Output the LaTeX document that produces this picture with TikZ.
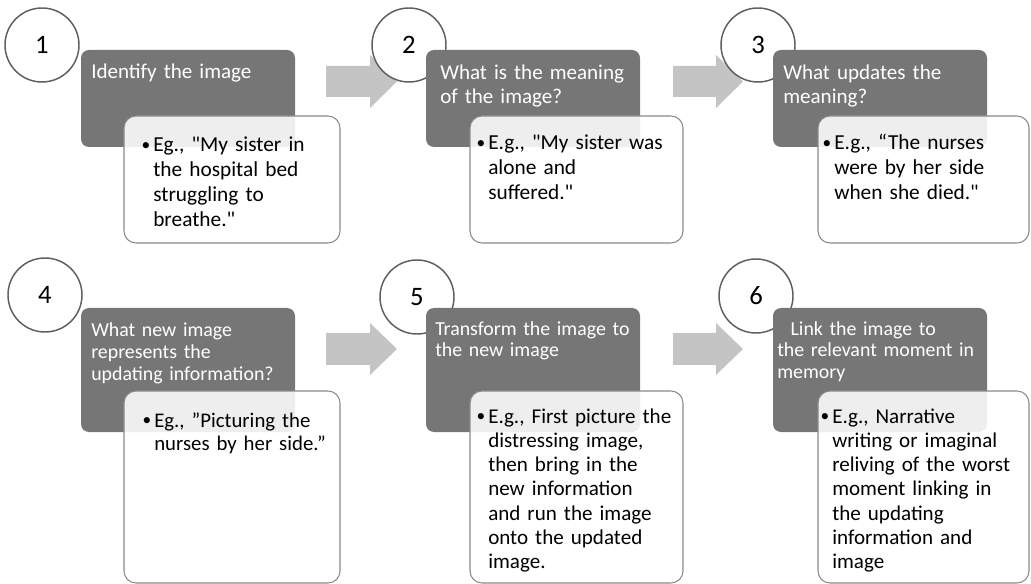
\documentclass[tikz,border=0pt]{standalone}
\usepackage{fontspec}
\setmainfont{Carlito}[Ligatures=TeXOff]
\definecolor{boxgray}{HTML}{767676}
\definecolor{arrowgray}{HTML}{C4C4C4}
\definecolor{circline}{HTML}{5E5E5E}
\definecolor{wline}{HTML}{8A8A8A}
\newcommand{\bul}{\makebox[8.25pt][l]{\hspace*{-0.5pt}\raisebox{0.9pt}{\fontsize{13}{13}\selectfont •}}}
\newcommand{\ind}{\hspace*{8.25pt}}
\begin{document}
\begin{tikzpicture}[x=0.75pt,y=-0.75pt,
  numcircle/.style={circle, draw=circline, line width=1.1pt, fill=white, minimum size=55.5pt, inner sep=0pt, font=\fontsize{20}{22}\selectfont},
  darkbox/.style={rectangle, rounded corners=6pt, fill=boxgray, inner sep=0pt, minimum width=160.5pt},
  whitebox/.style={rectangle, rounded corners=9pt, draw=wline, line width=0.8pt, fill=white, fill opacity=0.88, inner sep=0pt},
  titletext/.style={text=white, anchor=base west, inner sep=0pt, text width=250pt, align=left},
  bodytext/.style={text=black, anchor=base west, inner sep=0pt, text width=250pt, align=left},
  blockarrow/.style={fill=arrowgray}
]
\useasboundingbox (0,0) rectangle (1031,584);
% block arrows
\fill[blockarrow] (326,66) -- (370,66) -- (370,55) -- (397,81.5) -- (370,108) -- (370,97) -- (326,97) -- cycle;
\fill[blockarrow] (673,66) -- (716,66) -- (716,55) -- (743,81.5) -- (716,108) -- (716,97) -- (673,97) -- cycle;
\fill[blockarrow] (326,333) -- (370,333) -- (370,323) -- (397,349) -- (370,375) -- (370,365) -- (326,365) -- cycle;
\fill[blockarrow] (673,333) -- (716,333) -- (716,323) -- (743,349) -- (716,375) -- (716,365) -- (673,365) -- cycle;
% circles
\node[numcircle] (c1) at (42,45) {1};
\node[numcircle] (c2) at (409,45) {2};
\node[numcircle] (c3) at (758,45) {3};
\node[numcircle] (c4) at (45,295) {4};
\node[numcircle] (c5) at (417,297) {5};
\node[numcircle] (c6) at (756,296) {6};
% dark boxes
\node[darkbox, minimum height=72.75pt] (d1) at (188,98.5) {};
\node[darkbox, minimum height=72.75pt] (d2) at (533,98.5) {};
\node[darkbox, minimum height=72.75pt] (d3) at (880,98.5) {};
\node[darkbox, minimum height=93pt] (d4) at (188,370) {};
\node[darkbox, minimum height=93pt] (d5) at (533,370) {};
\node[darkbox, minimum height=93pt] (d6) at (880,370) {};
% white boxes
\node[whitebox, minimum width=162pt, minimum height=95.25pt] (w1) at (232,179.5) {};
\node[whitebox, minimum width=159.75pt, minimum height=95.25pt] (w2) at (576.5,179.5) {};
\node[whitebox, minimum width=158.25pt, minimum height=95.25pt] (w3) at (923.5,179.5) {};
\node[whitebox, minimum width=162pt, minimum height=144pt] (w4) at (232,487) {};
\node[whitebox, minimum width=159.75pt, minimum height=144pt] (w5) at (576.5,487) {};
\node[whitebox, minimum width=158.25pt, minimum height=144pt] (w6) at (923.5,487) {};
% titles
\node[titletext, font=\fontsize{15.8}{17.4}\selectfont] (t1) at (91,79) {Identify the image};
\node[titletext, font=\fontsize{15.8}{17.4}\selectfont] (t2) at (440,80) {What is the meaning\\of the image?};
\node[titletext, font=\fontsize{15.8}{17.4}\selectfont] (t3) at (783,80) {What updates the\\meaning?};
\node[titletext, font=\fontsize{14.9}{16.2}\selectfont] (t4) at (91,337) {What new image\\represents the\\updating information?};
\node[titletext, font=\fontsize{14.9}{16.2}\selectfont] (t5) at (435,335) {Transform the image to\\the new image};
\node[titletext, font=\fontsize{14.9}{16.2}\selectfont] (t6) at (777,335) {\hspace*{10pt}Link the image to\\the relevant moment in\\memory};
% bodies
\node[bodytext, font=\fontsize{16}{18.75}\selectfont] (b1) at (142,152) {\bul Eg., "My sister in\\\ind the hospital bed\\\ind struggling to\\\ind breathe."};
\node[bodytext, font=\fontsize{16}{18.75}\selectfont] (b2) at (477,150) {\bul E.g., "My sister was\\\ind alone and\\\ind suffered."};
\node[bodytext, font=\fontsize{16}{18.75}\selectfont] (b3) at (823,150) {\bul E.g., “The nurses\\\ind were by her side\\\ind when she died."};
\node[bodytext, font=\fontsize{15.6}{17.5}\selectfont] (b4) at (143,427) {\bul Eg., ”Picturing the\\\ind nurses by her side.”};
\node[bodytext, font=\fontsize{15.8}{18.2}\selectfont] (b5) at (477,423) {\bul E.g., First picture the\\\ind distressing image,\\\ind then bring in the\\\ind new information\\\ind and run the image\\\ind onto the updated\\\ind image.};
\node[bodytext, font=\fontsize{15.8}{18.2}\selectfont] (b6) at (821,423) {\bul E.g., Narrative\\\ind writing or imaginal\\\ind reliving of the worst\\\ind moment linking in\\\ind the updating\\\ind information and\\\ind image};
\end{tikzpicture}
\end{document}
